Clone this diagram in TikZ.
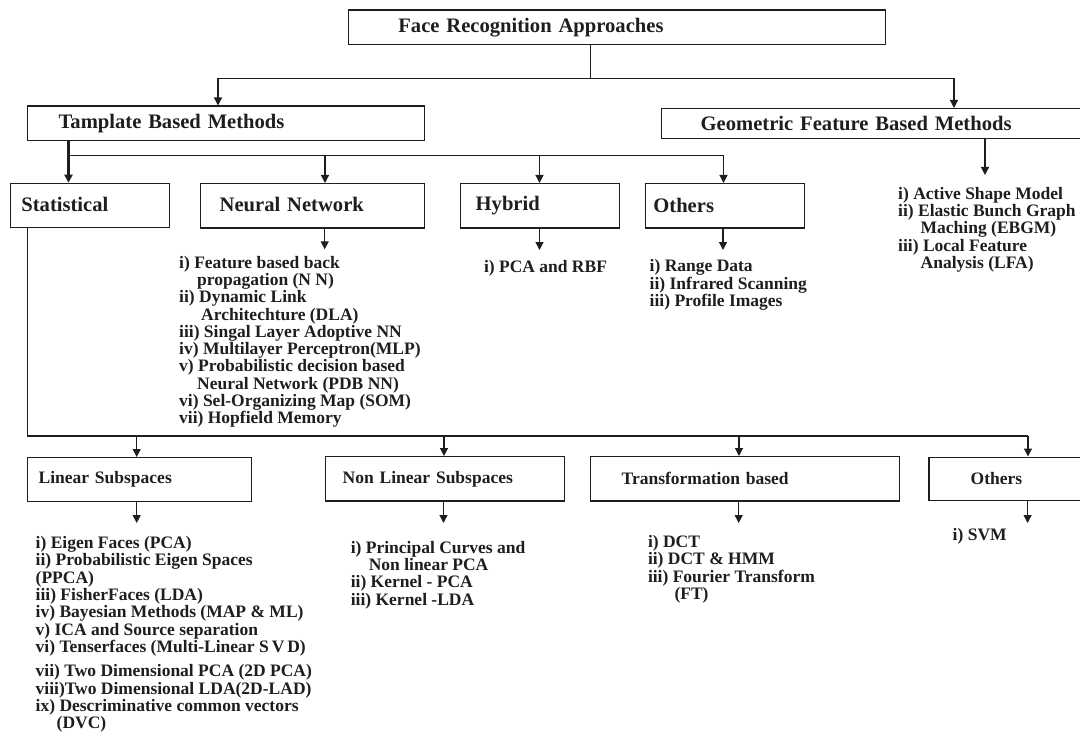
\documentclass[tikz,border=0pt]{standalone}
\usepackage{fontspec}
\setmainfont{Liberation Serif}
\usetikzlibrary{arrows.meta}
\definecolor{ink}{HTML}{1E1E1E}
\begin{document}
\begin{tikzpicture}[x=1pt,y=-1pt,
  bigf/.style={font=\fontsize{20.6}{24}\selectfont\bfseries},
  smallf/.style={font=\fontsize{17.5}{17.3}\selectfont\bfseries},
  box/.style={draw=ink, line width=1.4pt, rectangle, anchor=north west,
              inner ysep=0pt, align=left, text=ink},
  lst/.style={smallf, anchor=north west, inner sep=0pt, align=left, text=ink},
  conn/.style={draw=ink, line width=1.2pt},
  arr/.style={conn, -{Triangle[width=8pt,length=8pt]}},
]
\useasboundingbox (0,0) rectangle (1080,733);

% ---------- boxes ----------
\node[box, bigf, minimum height=34.7pt, inner xsep=49.7pt, text width=437.6pt] (title) at (348,9.3) {Face Recognition Approaches};
\node[box, bigf, minimum height=34.5pt, inner xsep=31.4pt, text width=334.7pt] (tmpl) at (26.5,105.5) {Tamplate Based Methods};
\node[box, bigf, minimum height=30pt, inner xsep=39pt, text width=346pt] (geom) at (661,108) {Geometric Feature Based Methods};

\node[box, bigf, minimum height=44pt, inner xsep=11.2pt, text width=137.1pt] (stat) at (9.5,182.7) {\raisebox{3pt}{Statistical}};
\node[box, bigf, minimum height=44.3pt, inner xsep=19pt, text width=186pt] (nn) at (200,183) {\raisebox{3pt}{Neural Network}};
\node[box, bigf, minimum height=44.3pt, inner xsep=15.5pt, text width=128.5pt] (hyb) at (459.5,183) {\raisebox{1pt}{Hybrid}};
\node[box, bigf, minimum height=44.3pt, inner xsep=7.7pt, text width=143.1pt] (oth) at (645,183) {Others};

\node[box, smallf, minimum height=44pt, inner xsep=11.4pt, text width=201.4pt] (lin) at (26.5,457) {\raisebox{3pt}{Linear Subspaces}};
\node[box, smallf, minimum height=44.3pt, inner xsep=17.3pt, text width=204.7pt] (nonlin) at (324.7,456) {Non Linear Subspaces};
\node[box, smallf, minimum height=44.3pt, inner xsep=31pt, text width=246.8pt] (trans) at (590,456) {Transformation based};
\node[box, smallf, minimum height=43pt, inner xsep=41.6pt, text width=73.4pt] (oth2) at (928.4,456.5) {\raisebox{-2pt}{Others}};

% ---------- lists ----------
\node[lst] (geoL) at (898,186.8) {\rule{0pt}{12pt}i) Active Shape Model\\
ii) Elastic Bunch Graph\\
\hspace*{22.5pt}Maching (EBGM)\\
iii) Local Feature\\
\hspace*{22.5pt}Analysis (LFA)};

\node[lst] (nnL) at (179,255.8) {\rule{0pt}{12pt}i) Feature based back\\
\hspace*{18pt}propagation (N N)\\
ii) Dynamic Link\\
\hspace*{22pt}Architechture (DLA)\\
iii) Singal Layer Adoptive NN\\
iv) Multilayer Perceptron(MLP)\\
v) Probabilistic decision based\\
\hspace*{18pt}Neural Network (PDB NN)\\
vi) Sel-Organizing Map (SOM)\\
vii) Hopfield Memory};

\node[lst] (hybL) at (483.8,260.2) {\rule{0pt}{12pt}i) PCA and RBF};

\node[lst] (othL) at (649.5,259.5) {\rule{0pt}{12pt}i) Range Data\\
ii) Infrared Scanning\\
iii) Profile Images};

\node[lst] (linL) at (35.5,536.3) {\rule{0pt}{12pt}i) Eigen Faces (PCA)\\
ii) Probabilistic Eigen Spaces\\
(PPCA)\\
iii) FisherFaces (LDA)\\
iv) Bayesian Methods (MAP \& ML)\\
v) ICA and Source separation\\
vi) Tenserfaces (Multi-Linear S\,V\,D)\\[7pt]
vii) Two Dimensional PCA (2D PCA)\\
viii)Two Dimensional LDA(2D-LAD)\\
ix) Descriminative common vectors\\
\hspace*{21pt}(DVC)};

\node[lst] (nonL) at (350.6,540.8) {\rule{0pt}{12pt}i) Principal Curves and\\
\hspace*{18pt}Non linear PCA\\
ii) Kernel - PCA\\
iii) Kernel -LDA};

\node[lst] (trL) at (647.8,535.2) {\rule{0pt}{12pt}i) DCT\\
ii) DCT \& HMM\\
iii) Fourier Transform\\
\hspace*{26.5pt}(FT)};

\node[lst] (svmL) at (952.5,527.8) {\rule{0pt}{12pt}i) SVM};

% ---------- connectors: level 1 ----------
\coordinate (t0) at (590.6,78.3);
\coordinate (t1) at (218,78.3);
\coordinate (t2) at (954,78.3);
\draw[conn] (title.south -| t0) -- (t0);
\draw[conn] (t1) -- (t2);
\draw[arr] (t1) -- (t1 |- tmpl.north);
\draw[arr] (t2) -- (t2 |- geom.north);

% ---------- connectors: template branch ----------
\coordinate (m0) at (68.5,155.3);
\coordinate (m1) at (723.5,155.3);
\coordinate (m2) at (325,155.3);
\coordinate (m3) at (539.5,155.3);
\draw[arr, line width=2.6pt] (tmpl.south -| m0) -- (m0 |- stat.north);
\draw[conn] (m0) -- (m1);
\draw[arr] (m2) -- (m2 |- nn.north);
\draw[arr] (m3) -- (m3 |- hyb.north);
\draw[arr] (m1) -- (m1 |- oth.north);

% geometric
\coordinate (g0) at (985,175);
\draw[arr] (geom.south -| g0) -- (g0);

% to lists
\coordinate (n0) at (324.7,249.3);
\coordinate (h0) at (539.5,250);
\coordinate (o0) at (723,250);
\draw[arr] (nn.south -| n0) -- (n0);
\draw[arr] (hyb.south -| h0) -- (h0);
\draw[arr] (oth.south -| o0) -- (o0);

% ---------- statistical branch ----------
\coordinate (s0) at (27.5,436);
\coordinate (s1) at (1028,436);
\coordinate (s2) at (136.7,436);
\coordinate (s3) at (444,436);
\coordinate (s4) at (739,436);
\draw[conn] (stat.south -| s0) -- (s0) -- (s1);
\draw[arr] (s2) -- (s2 |- lin.north);
\draw[arr] (s3) -- (s3 |- nonlin.north);
\draw[arr] (s4) -- (s4 |- trans.north);
\draw[arr] (s1) -- (s1 |- oth2.north);

\coordinate (b1) at (136.7,523);
\coordinate (b2) at (443.5,523);
\coordinate (b3) at (738.7,523);
\coordinate (b4) at (1027.6,523);
\draw[arr] (lin.south -| b1) -- (b1);
\draw[arr] (nonlin.south -| b2) -- (b2);
\draw[arr] (trans.south -| b3) -- (b3);
\draw[arr] (oth2.south -| b4) -- (b4);
\end{tikzpicture}
\end{document}
